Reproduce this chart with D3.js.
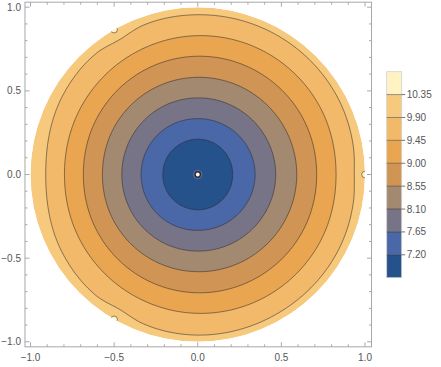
<!DOCTYPE html>
<html><head><meta charset="utf-8">
<script src="https://cdn.jsdelivr.net/npm/d3@7"></script>
<style>
body{margin:0;background:#fff}
svg{display:block}
text{font-family:"Liberation Sans",Arial,sans-serif;font-size:10px;fill:#555}
</style>
</head><body>
<svg id="chart" width="441" height="367"></svg>
<script>
// ---------- data ----------
const levels = [7.20, 7.65, 8.10, 8.55, 9.00, 9.45, 9.90, 10.35];
const levelLabels = ["7.20", "7.65", "8.10", "8.55", "9.00", "9.45", "9.90", "10.35"];
const bandColors = ["#26528c", "#4a67a8", "#787488", "#a3896f", "#d09455", "#eaa550", "#f2b96a", "#f6c97d", "#fff3c4"];

// contour radii (in plot units) at these polar angles (degrees)
const contourAngles = [0, 30, 60, 90, 120, 150, 180, 210, 240, 270, 300, 330];
const r720 = [0.209, 0.210, 0.211, 0.211, 0.210, 0.210, 0.209, 0.210, 0.210, 0.211, 0.211, 0.210];
const r765 = [0.343, 0.340, 0.336, 0.334, 0.336, 0.338, 0.339, 0.338, 0.336, 0.334, 0.336, 0.340];
const r810 = [0.466, 0.463, 0.460, 0.458, 0.457, 0.455, 0.454, 0.455, 0.457, 0.458, 0.460, 0.463];
const r855 = [0.592, 0.589, 0.585, 0.581, 0.578, 0.574, 0.570, 0.574, 0.578, 0.581, 0.585, 0.589];
const r900 = [0.711, 0.713, 0.711, 0.707, 0.700, 0.691, 0.684, 0.691, 0.700, 0.707, 0.711, 0.713];
const r945 = [0.827, 0.835, 0.836, 0.830, 0.818, 0.806, 0.797, 0.806, 0.818, 0.830, 0.836, 0.835];
const outerAngles = [0, 10, 30, 60, 90, 110, 120, 130, 150, 180, 210, 230, 240, 250, 270, 300, 330, 350];
const r990 = [0.936, 0.945, 0.955, 0.958, 0.955, 0.950, 0.932, 0.945, 0.935, 0.909, 0.935, 0.945, 0.932, 0.950, 0.960, 0.958, 0.955, 0.945];

// special points (spikes)
const pointX = [0, 1, -0.5, -0.5];
const pointY = [0, 0, 0.866, -0.866];

const majorTicks = [-1.0, -0.5, 0.0, 0.5, 1.0];
const majorTickLabels = ["\u22121.0", "\u22120.5", "0.0", "0.5", "1.0"];
const minorTicks = [-1.0, -0.9, -0.8, -0.7, -0.6, -0.5, -0.4, -0.3, -0.2, -0.1, 0.0, 0.1, 0.2, 0.3, 0.4, 0.5, 0.6, 0.7, 0.8, 0.9, 1.0];

// ---------- layout ----------
const svg = d3.select("#chart");
const x = d3.scaleLinear().domain([-1, 1]).range([30.5, 365]);
const y = d3.scaleLinear().domain([-1, 1]).range([341.8, 7.2]);
const frameX = [-1.033, 1.039];
const frameY = [-1.03, 1.03];

const contours = [
  {angles: contourAngles, radii: r720},
  {angles: contourAngles, radii: r765},
  {angles: contourAngles, radii: r810},
  {angles: contourAngles, radii: r855},
  {angles: contourAngles, radii: r900},
  {angles: contourAngles, radii: r945},
  {angles: outerAngles, radii: r990}
];

// smooth periodic (Hermite / Catmull-Rom) interpolation of radius vs angle
function radialFn(ang, rad) {
  const n = ang.length;
  const A = [ang[n - 2] - 360, ang[n - 1] - 360, ...ang, ang[0] + 360, ang[1] + 360];
  const R = [rad[n - 2], rad[n - 1], ...rad, rad[0], rad[1]];
  const m = k => (R[k + 1] - R[k - 1]) / (A[k + 1] - A[k - 1]);
  return th => {
    let i = 1;
    while (i < A.length - 2 && A[i + 1] <= th) i++;
    const d = A[i + 1] - A[i], t = (th - A[i]) / d;
    const t2 = t * t, t3 = t2 * t;
    return (2 * t3 - 3 * t2 + 1) * R[i] + (t3 - 2 * t2 + t) * d * m(i)
         + (-2 * t3 + 3 * t2) * R[i + 1] + (t3 - t2) * d * m(i + 1);
  };
}
const thetas = d3.range(0, 360, 1);
const line = d3.line().curve(d3.curveLinearClosed);
function contourPath(c) {
  const f = radialFn(c.angles, c.radii);
  return line(thetas.map(th => {
    const r = f(th), a = th * Math.PI / 180;
    return [x(r * Math.cos(a)), y(r * Math.sin(a))];
  }));
}

// clip to unit disk
const defs = svg.append("defs");
defs.append("clipPath").attr("id", "disk")
  .append("circle").attr("cx", x(0)).attr("cy", y(0)).attr("r", x(1) - x(0));

const plot = svg.append("g").attr("clip-path", "url(#disk)");
plot.append("circle").attr("cx", x(0)).attr("cy", y(0)).attr("r", x(1) - x(0))
  .attr("fill", bandColors[7]);

// filled bands, outermost first
for (let k = contours.length - 1; k >= 0; k--) {
  plot.append("path").attr("d", contourPath(contours[k])).attr("fill", bandColors[k]);
}
// contour lines
contours.forEach(c => {
  plot.append("path").attr("d", contourPath(c)).attr("fill", "none")
    .attr("stroke", "#2a2a2a").attr("stroke-opacity", 0.6).attr("stroke-width", 0.9);
});

// spikes at the boundary points
for (let i = 1; i < pointX.length; i++) {
  plot.append("circle").attr("cx", x(pointX[i])).attr("cy", y(pointY[i])).attr("r", 3.3)
    .attr("fill", bandColors[8]).attr("stroke", "#2a2a2a").attr("stroke-opacity", 0.6).attr("stroke-width", 0.9);
}
// center spike
const cx0 = x(pointX[0]), cy0 = y(pointY[0]);
plot.append("circle").attr("cx", cx0).attr("cy", cy0).attr("r", 4.6).attr("fill", "#5a6fa6");
plot.append("circle").attr("cx", cx0).attr("cy", cy0).attr("r", 3.4).attr("fill", "#2b2b2b");
plot.append("circle").attr("cx", cx0).attr("cy", cy0).attr("r", 1.9).attr("fill", "#fffbe8");

// ---------- frame ----------
const fx0 = x(frameX[0]), fx1 = x(frameX[1]), fy0 = y(frameY[0]), fy1 = y(frameY[1]);
const frameColor = "#a8a8a8";
svg.append("rect").attr("x", fx0).attr("y", fy1).attr("width", fx1 - fx0).attr("height", fy0 - fy1)
  .attr("fill", "none").attr("stroke", frameColor).attr("stroke-width", 1);

const tg = svg.append("g").attr("stroke", frameColor).attr("stroke-width", 1);
minorTicks.forEach(v => {
  const isMajor = majorTicks.some(m => Math.abs(m - v) < 1e-9);
  const len = isMajor ? 4.5 : 2.5;
  tg.append("line").attr("x1", x(v)).attr("x2", x(v)).attr("y1", fy0).attr("y2", fy0 - len);
  tg.append("line").attr("x1", x(v)).attr("x2", x(v)).attr("y1", fy1).attr("y2", fy1 + len);
  tg.append("line").attr("y1", y(v)).attr("y2", y(v)).attr("x1", fx0).attr("x2", fx0 + len);
  tg.append("line").attr("y1", y(v)).attr("y2", y(v)).attr("x1", fx1).attr("x2", fx1 - len);
});
majorTicks.forEach((v, i) => {
  svg.append("text").attr("x", x(v)).attr("y", 361).attr("text-anchor", "middle").text(majorTickLabels[i]);
  svg.append("text").attr("x", 21).attr("y", y(v)).attr("dy", "0.35em").attr("text-anchor", "end").text(majorTickLabels[i]);
});

// ---------- color bar ----------
const cb = d3.scaleLinear().domain([6.75, 10.80]).range([277.7, 71.7]);
const bandEdges = [6.75, ...levels, 10.80];
const cbX = 386.7, cbW = 15;
bandColors.forEach((c, i) => {
  svg.append("rect").attr("x", cbX).attr("y", cb(bandEdges[i + 1])).attr("width", cbW)
    .attr("height", cb(bandEdges[i]) - cb(bandEdges[i + 1])).attr("fill", c);
});
svg.append("rect").attr("x", cbX).attr("y", cb(10.80)).attr("width", cbW).attr("height", cb(6.75) - cb(10.80))
  .attr("fill", "none").attr("stroke", "#d0d0d0").attr("stroke-width", 0.8);
levels.forEach((v, i) => {
  svg.append("line").attr("x1", cbX).attr("x2", cbX + cbW).attr("y1", cb(v)).attr("y2", cb(v))
    .attr("stroke", "#2a2a2a").attr("stroke-opacity", 0.55).attr("stroke-width", 0.9);
  svg.append("line").attr("x1", cbX + cbW).attr("x2", cbX + cbW + 3.5).attr("y1", cb(v)).attr("y2", cb(v))
    .attr("stroke", "#666").attr("stroke-width", 0.9);
  svg.append("text").attr("x", cbX + cbW + 5).attr("y", cb(v)).attr("dy", "0.35em").text(levelLabels[i]);
});
</script>
</body></html>
